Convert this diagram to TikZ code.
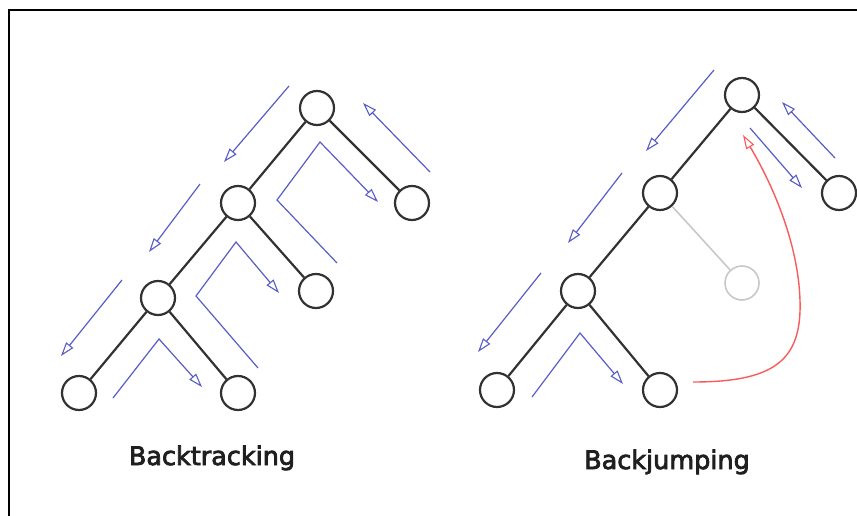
\documentclass[tikz,border=0pt]{standalone}
\usepackage{fontspec}
\newfontfamily\capfont{DejaVu Sans}[FakeBold=3]
\usepackage{tikz}
\usetikzlibrary{arrows.meta}
\definecolor{walkblue}{RGB}{88,92,200}
\definecolor{jumpred}{RGB}{250,90,90}
\definecolor{nodegray}{RGB}{50,50,50}
\definecolor{prunedgray}{RGB}{200,200,200}

\begin{document}
\begin{tikzpicture}[x=1pt, y=-1pt,
    vertex/.style={circle, draw=nodegray, line width=2.2pt, fill=white, minimum size=34pt, inner sep=0pt},
    pruned/.style={vertex, draw=prunedgray, line width=1.6pt},
    edge/.style={nodegray, line width=2.2pt},
    walk/.style={walkblue, line width=1.2pt, -{Triangle[open, length=14pt, width=9pt, line width=1.1pt]}},
    jump/.style={jumpred, line width=1.4pt, -{Triangle[open, length=14pt, width=9pt, line width=1.1pt]}},
    caption/.style={anchor=base, font=\capfont\fontsize{25.5}{28}\selectfont, text=black!88}
]
\useasboundingbox (0,0) rectangle (857,516);
% Frame
\draw[line width=2.2pt] (9,516) -- (9,10) -- (857,10);

% Backtracking tree
\node[vertex] (bt-root) at (317,108) {};
\node[vertex] (bt-a) at (238,203) {};
\node[vertex] (bt-ar) at (412,203) {};
\node[vertex] (bt-b) at (158,298) {};
\node[vertex] (bt-br) at (316,291) {};
\node[vertex] (bt-c) at (79,393) {};
\node[vertex] (bt-cr) at (238,393) {};
\draw[edge] (bt-root) -- (bt-a);
\draw[edge] (bt-root) -- (bt-ar);
\draw[edge] (bt-a) -- (bt-b);
\draw[edge] (bt-a) -- (bt-br);
\draw[edge] (bt-b) -- (bt-c);
\draw[edge] (bt-b) -- (bt-cr);

% Search order (backtracking)
\coordinate (bt-d1s) at (289,86);   \coordinate (bt-d1e) at (224,162);
\coordinate (bt-d2s) at (200,184);  \coordinate (bt-d2e) at (149,252);
\coordinate (bt-d3s) at (122,280);  \coordinate (bt-d3e) at (61,356);
\coordinate (bt-ups) at (430,172);  \coordinate (bt-upe) at (363,103);
\coordinate (bt-r1s) at (337,263);  \coordinate (bt-r1m) at (277,200);
\coordinate (bt-r1t) at (320,142);  \coordinate (bt-r1e) at (378,202);
\coordinate (bt-r2s) at (258,368);  \coordinate (bt-r2m) at (196,296);
\coordinate (bt-r2t) at (236,242);  \coordinate (bt-r2e) at (279,293);
\coordinate (bt-r3s) at (113,398);  \coordinate (bt-r3t) at (159,339);
\coordinate (bt-r3e) at (202,387);
\draw[walk] (bt-d1s) -- (bt-d1e);
\draw[walk] (bt-d2s) -- (bt-d2e);
\draw[walk] (bt-d3s) -- (bt-d3e);
\draw[walk] (bt-ups) -- (bt-upe);
\draw[walk] (bt-r1s) -- (bt-r1m) -- (bt-r1t) -- (bt-r1e);
\draw[walk] (bt-r2s) -- (bt-r2m) -- (bt-r2t) -- (bt-r2e);
\draw[walk] (bt-r3s) -- (bt-r3t) -- (bt-r3e);

\node[caption] (bt-label) at (212,465) {Backtracking};

% Backjumping tree
\node[vertex] (bj-root) at (742,95) {};
\node[vertex] (bj-a) at (660,193) {};
\node[vertex] (bj-ar) at (839,193) {};
\node[vertex] (bj-b) at (578,291) {};
\node[pruned] (bj-br) at (742,283) {};
\node[vertex] (bj-c) at (497,390) {};
\node[vertex] (bj-cr) at (660,390) {};
\draw[edge] (bj-root) -- (bj-a);
\draw[edge] (bj-root) -- (bj-ar);
\draw[edge] (bj-a) -- (bj-b);
\draw[prunedgray, line width=1.6pt] (bj-a) -- (bj-br);
\draw[edge] (bj-b) -- (bj-c);
\draw[edge] (bj-b) -- (bj-cr);

% Search order (backjumping)
\coordinate (bj-d1s) at (714,70);   \coordinate (bj-d1e) at (646,151);
\coordinate (bj-d2s) at (622,173);  \coordinate (bj-d2e) at (568,243);
\coordinate (bj-d3s) at (541,273);  \coordinate (bj-d3e) at (478,352);
\coordinate (bj-ups) at (835,158);  \coordinate (bj-upe) at (782,102);
\coordinate (bj-dns) at (750,128);  \coordinate (bj-dne) at (802,188);
\coordinate (bj-r3s) at (532,397);  \coordinate (bj-r3t) at (580,333);
\coordinate (bj-r3e) at (623,384);
\coordinate (bj-js) at (693,382);   \coordinate (bj-je) at (743,135);
\draw[walk] (bj-d1s) -- (bj-d1e);
\draw[walk] (bj-d2s) -- (bj-d2e);
\draw[walk] (bj-d3s) -- (bj-d3e);
\draw[walk] (bj-ups) -- (bj-upe);
\draw[walk] (bj-dns) -- (bj-dne);
\draw[walk] (bj-r3s) -- (bj-r3t) -- (bj-r3e);
\draw[jump] (bj-js) .. controls (775,382) and (802,360) .. (800,300)
    .. controls (798,240) and (770,180) .. (bj-je);

\node[caption] (bj-label) at (667,469) {Backjumping};
\end{tikzpicture}
\end{document}
